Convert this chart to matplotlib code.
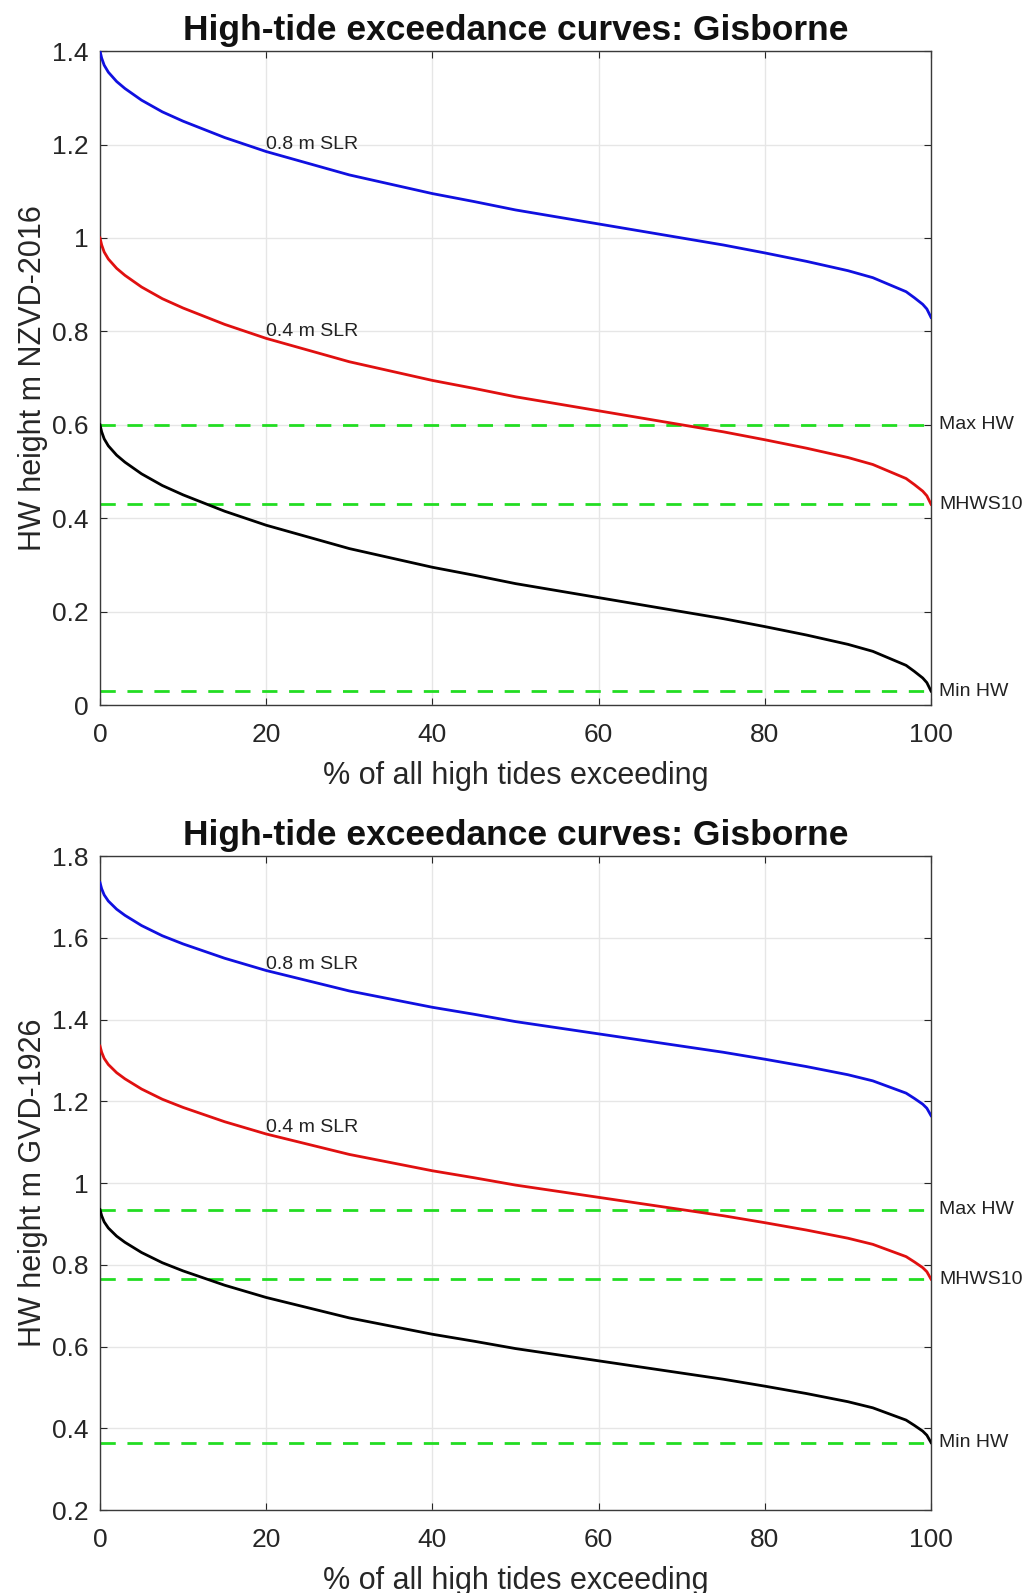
import numpy as np
import matplotlib
matplotlib.use("Agg")
import matplotlib.pyplot as plt
from matplotlib.ticker import FuncFormatter

plt.rcParams.update({
    "font.family": ["Liberation Sans", "DejaVu Sans"],
    "axes.linewidth": 1.0,
    "xtick.direction": "in",
    "ytick.direction": "in",
    "xtick.top": True,
    "ytick.right": True,
    "xtick.major.size": 5,
    "ytick.major.size": 5,
})

# ---- data ----
# % of all high tides exceeding
pct = [0, 0.2, 0.5, 1, 2, 3, 5, 7.5, 10, 15, 20, 25, 30, 35, 40, 45, 50,
       55, 60, 65, 70, 75, 80, 85, 90, 93, 95, 97, 98, 99, 99.5, 100]
# present-day HW height, m NZVD-2016
hw_base = [0.60, 0.585, 0.57, 0.555, 0.535, 0.52, 0.495, 0.47, 0.45, 0.415,
           0.385, 0.36, 0.335, 0.315, 0.295, 0.278, 0.26, 0.245, 0.23, 0.215,
           0.20, 0.185, 0.168, 0.15, 0.13, 0.115, 0.10, 0.085, 0.072, 0.058,
           0.048, 0.03]
slr = [0.0, 0.4, 0.8]
slr_colors = ["black", "#e01010", "#1010e0"]
slr_labels = [None, "0.4 m SLR", "0.8 m SLR"]

datum_names = ["NZVD-2016", "GVD-1926"]
datum_offset = [0.0, 0.335]          # GVD-1926 = NZVD-2016 + 0.335
ylims = [(0, 1.4), (0.2, 1.8)]

ref_names = ["Max HW", "MHWS10", "Min HW"]
ref_levels = [0.60, 0.43, 0.03]      # NZVD-2016

pct = np.array(pct)
hw_base = np.array(hw_base)

fig = plt.figure(figsize=(10.3, 15.93), dpi=100)
axes_pos = [[0.0971, 0.5574, 0.8068, 0.4105],
            [0.0971, 0.0521, 0.8068, 0.4105]]

tick_col = "#262626"
for k in range(2):
    ax = fig.add_axes(axes_pos[k])
    off = datum_offset[k]

    for lvl, name in zip(ref_levels, ref_names):
        ax.plot([0, 100], [lvl + off, lvl + off], color="#22dd22",
                linewidth=2.0, dashes=(5.5, 4.2), zorder=2)
        ax.text(101, lvl + off, name, fontsize=14, va="center", ha="left",
                color="#222222", clip_on=False)

    for s, c, lab in zip(slr, slr_colors, slr_labels):
        ax.plot(pct, hw_base + s + off, color=c, linewidth=2.0, zorder=3)
        if lab:
            ax.text(20, 0.4 + s + off, lab, fontsize=14, ha="left",
                    va="center", color="#222222")

    ax.set_xlim(0, 100)
    ax.set_ylim(*ylims[k])
    ax.set_xticks(np.arange(0, 101, 20))
    ax.set_yticks(np.arange(ylims[k][0], ylims[k][1] + 0.01, 0.2))
    ax.yaxis.set_major_formatter(FuncFormatter(lambda v, p: f"{v:g}"))
    ax.grid(True, color="#e6e6e6", linewidth=1.0)
    ax.set_axisbelow(True)
    ax.tick_params(labelsize=19, colors=tick_col, width=0.8)
    ax.tick_params(axis="x", pad=13)
    ax.tick_params(axis="y", pad=8)
    for sp in ax.spines.values():
        sp.set_color("#3a3a3a")

    ax.set_xlabel("% of all high tides exceeding", fontsize=22,
                  color=tick_col, labelpad=10)
    ax.set_ylabel("HW height m " + datum_names[k], fontsize=22,
                  color=tick_col, labelpad=3)
    ax.set_title("High-tide exceedance curves: Gisborne", fontsize=25.5,
                 fontweight="bold", color="#111111", pad=8)

fig.savefig("out.png", dpi=100)
